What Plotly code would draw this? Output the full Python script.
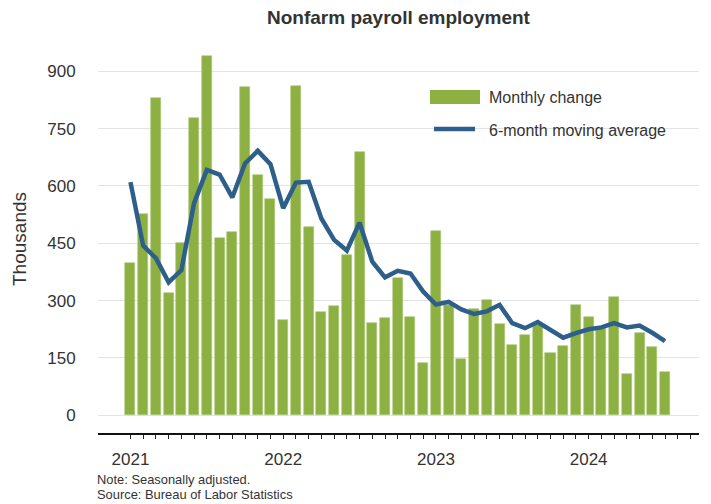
import plotly.graph_objects as go

# ---- data ----
months = list(range(43))  # Jan 2021 .. Jul 2024, month index
monthly_change = [398, 527, 831, 319, 451, 778, 940, 464, 479, 860,
                  630, 565, 249, 862, 494, 271, 285, 419, 690, 242,
                  255, 360, 258, 136, 481, 289, 147, 278, 302, 239,
                  183, 209, 236, 164, 181, 289, 256, 228, 310, 107,
                  215, 178, 113]
moving_avg = [610, 444, 411, 348, 380, 555, 642, 630, 570, 659,
              692, 657, 542, 609, 611, 515, 459, 431, 504, 402,
              361, 378, 371, 324, 290, 297, 277, 265, 272, 289,
              241, 228, 244, 223, 203, 215, 225, 230, 241, 230,
              235, 216, 194]
years = ["2021", "2022", "2023", "2024"]
y_ticks = [0, 150, 300, 450, 600, 750, 900]

# ---- layout geometry ----
W, H = 711, 504
ML, MR, MT, MB = 98, 12, 45, 71
PW, PH = W - ML - MR, H - MT - MB

def px(x):
    return (x - ML) / PW

def py(y):
    return (H - MB - y) / PH

GREEN = "#8db043"
BLUE = "#2e5f8b"
TXT = "#333333"
FONT = "Liberation Sans, Arial, sans-serif"

tick_vals = list(range(45))
tick_text = [years[i // 12] if i % 12 == 0 and i // 12 < len(years) else "" for i in tick_vals]

fig = go.Figure()
fig.add_trace(go.Bar(x=months, y=monthly_change, name="Monthly change",
                     marker=dict(color=GREEN, line=dict(width=0.6, color="#a9c773")),
                     width=0.79, showlegend=False))
fig.add_trace(go.Scatter(x=months, y=moving_avg, name="6-month moving average",
                         mode="lines", line=dict(color=BLUE, width=4.5),
                         showlegend=False))

fig.update_layout(
    width=W, height=H,
    margin=dict(l=ML, r=MR, t=MT, b=MB, pad=0),
    paper_bgcolor="white", plot_bgcolor="white",
    font=dict(family=FONT, color=TXT),
    title=dict(text="<b>Nonfarm payroll employment</b>", x=px((ML + W - MR) / 2),
               xanchor="center", xref="paper", y=1 - 17 / H, yanchor="middle",
               yref="container", font=dict(size=19, color=TXT)),
    bargap=0,
)
fig.update_xaxes(
    range=[-2.55, 44.67], tickmode="array", tickvals=tick_vals, ticktext=tick_text,
    ticks="outside", ticklen=4, tickwidth=1, tickcolor="#222222",
    showline=True, linecolor="#111111", linewidth=2, ticklabelstandoff=6,
    showgrid=False, zeroline=False, tickfont=dict(size=17, color=TXT),
)
fig.update_yaxes(
    range=[-46.3, 968.9], tickmode="array", tickvals=y_ticks,
    ticks="outside", ticklen=18, tickcolor="rgba(0,0,0,0)",
    showgrid=True, gridcolor="#e3e3e3", gridwidth=1, zeroline=False,
    showline=False, tickfont=dict(size=17, color=TXT),
    title=dict(text="Thousands", font=dict(size=19, color=TXT), standoff=15),
)

# custom legend
fig.add_shape(type="rect", xref="paper", yref="paper",
              x0=px(430), x1=px(480), y0=py(104), y1=py(90),
              fillcolor=GREEN, line=dict(width=0))
fig.add_shape(type="line", xref="paper", yref="paper",
              x0=px(434), x1=px(475), y0=py(129), y1=py(129),
              line=dict(color=BLUE, width=4.5))
fig.add_annotation(text="Monthly change", xref="paper", yref="paper",
                   x=px(487), y=py(98), xanchor="left", yanchor="middle",
                   showarrow=False, font=dict(size=16, color=TXT))
fig.add_annotation(text="6-month moving average", xref="paper", yref="paper",
                   x=px(487), y=py(130), xanchor="left", yanchor="middle",
                   showarrow=False, font=dict(size=16, color=TXT))

# notes
fig.add_annotation(text="Note: Seasonally adjusted.", xref="paper", yref="paper",
                   x=px(95), y=py(479), xanchor="left", yanchor="middle",
                   showarrow=False, font=dict(size=12.9, color=TXT))
fig.add_annotation(text="Source: Bureau of Labor Statistics", xref="paper", yref="paper",
                   x=px(95), y=py(494.5), xanchor="left", yanchor="middle",
                   showarrow=False, font=dict(size=12.9, color=TXT))

fig.write_html("out.html")
